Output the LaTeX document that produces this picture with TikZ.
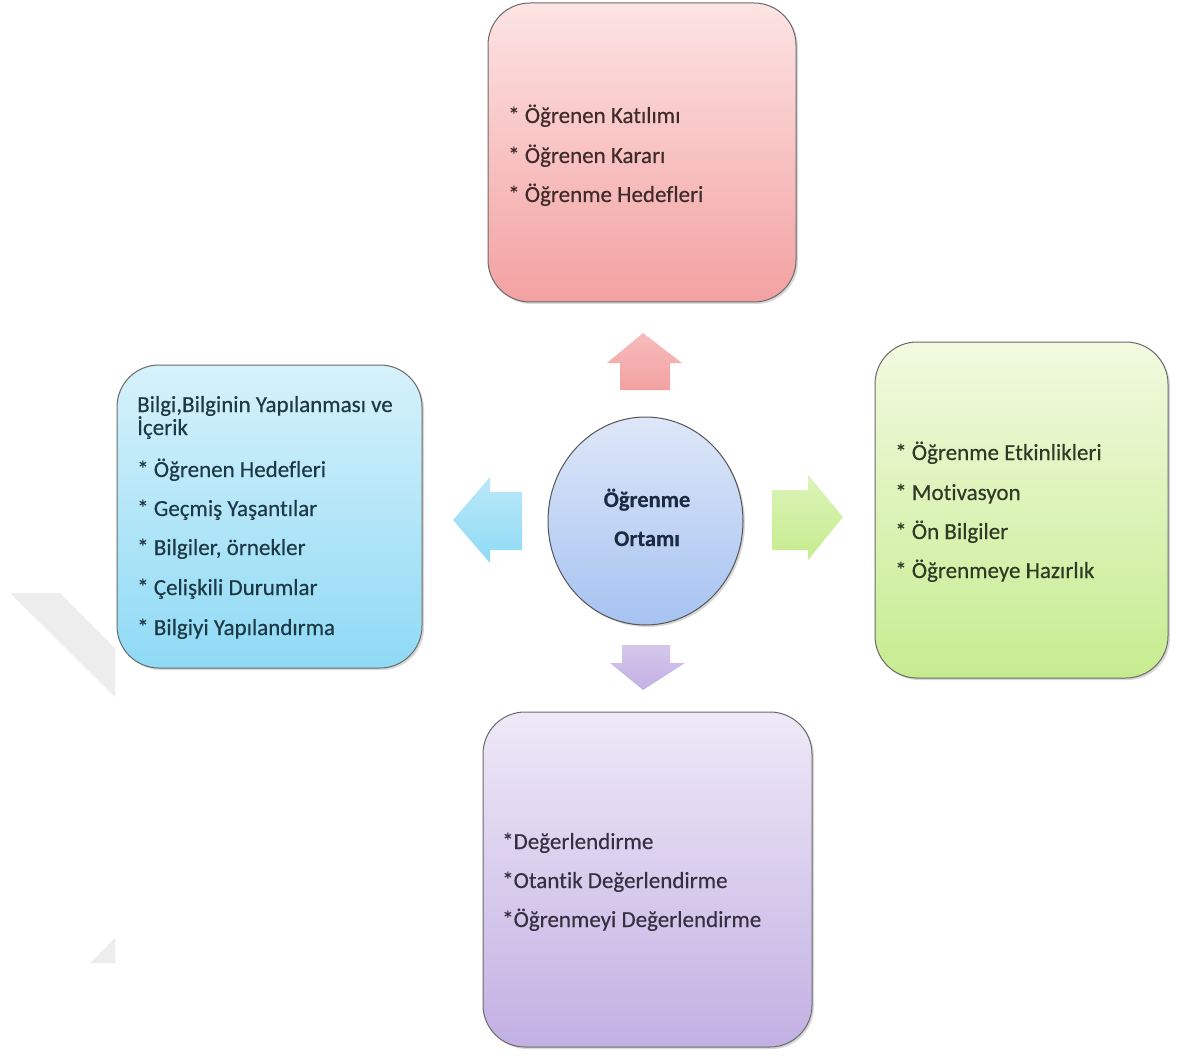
\documentclass[tikz,border=0pt]{standalone}
\usepackage{fontspec}
\setmainfont{Carlito}[Ligatures=NoCommon, FakeBold=0.35]
\newfontfamily\ctrfont{Carlito}[Ligatures=NoCommon, BoldFont={Carlito Bold}, BoldFeatures={FakeBold=0.3}]
\usetikzlibrary{shapes.geometric,shadows}
\definecolor{cardborder}{HTML}{6A6A6A}
\definecolor{redtop}{HTML}{FDE4E4}\definecolor{redbot}{HTML}{F3A1A1}
\definecolor{cyantop}{HTML}{D6F2FB}\definecolor{cyanbot}{HTML}{8FDAF5}
\definecolor{greentop}{HTML}{F2FAE0}\definecolor{greenbot}{HTML}{C6EC8F}
\definecolor{purptop}{HTML}{EEE9F7}\definecolor{purpbot}{HTML}{C3B0E3}
\definecolor{circtop}{HTML}{DEE7F8}\definecolor{circbot}{HTML}{A6C3F1}
\definecolor{redtxt}{HTML}{3F2B2B}
\definecolor{cyantxt}{HTML}{1E3946}
\definecolor{greentxt}{HTML}{2E3A25}
\definecolor{purptxt}{HTML}{353142}
\definecolor{circtxt}{HTML}{1C2A42}
\definecolor{wmark}{HTML}{EDEDED}
\begin{document}
\begin{tikzpicture}[x=1pt,y=-1pt,
  card/.style={draw=cardborder, line width=1pt, rounded corners=42pt, inner sep=0pt,
    drop shadow={opacity=0.3,shadow xshift=2pt,shadow yshift=-2pt}},
  txtline/.style={anchor=base west, inner sep=0pt, font=\fontsize{23}{27}\selectfont},
  ctrline/.style={anchor=base, inner sep=0pt, font=\ctrfont\fontsize{22.5}{27}\selectfont\bfseries, text=circtxt},
]
\useasboundingbox (0,0) rectangle (1177,1056);
\fill[white] (0,0) rectangle (1177,1056);
% watermark
\fill[wmark] (10,593) -- (60,593) -- (115,648) -- (115,697) -- cycle;
\fill[wmark] (90,963) -- (115,938) -- (115,963) -- cycle;

% boxes
\node[card, top color=redtop, bottom color=redbot, minimum width=308pt, minimum height=299pt] (topbox) at (642,152.5) {};
\node[card, top color=cyantop, bottom color=cyanbot, minimum width=305pt, minimum height=303pt] (leftbox) at (269.5,516.5) {};
\node[card, top color=greentop, bottom color=greenbot, minimum width=293pt, minimum height=336pt] (rightbox) at (1021.5,510) {};
\node[card, top color=purptop, bottom color=purpbot, minimum width=329pt, minimum height=335pt] (botbox) at (647.5,879.5) {};

% center
\node[ellipse, draw=cardborder!80!black, line width=1pt, inner sep=0pt, minimum width=195pt, minimum height=208pt,
  top color=circtop, bottom color=circbot,
  drop shadow={opacity=0.3,shadow xshift=2pt,shadow yshift=-2pt}] (center) at (645.5,521) {};
\node[ctrline] (c1) at (647,507) {Öğrenme};
\node[ctrline] (c2) at (647,546) {Ortamı};

% arrows
\path[top color=redtop!40!redbot, bottom color=redbot] (643,333) -- (682,363) -- (670,363) -- (670,390) -- (620,390) -- (620,363) -- (607,363) -- cycle;
\path[top color=cyantop!60!cyanbot, bottom color=cyanbot] (453,520) -- (490,477) -- (490,492) -- (522,492) -- (522,550) -- (490,550) -- (490,563) -- cycle;
\path[top color=greentop!50!greenbot, bottom color=greenbot] (843,517) -- (808,475) -- (808,490) -- (772,490) -- (772,550) -- (808,550) -- (808,560) -- cycle;
\path[top color=purptop!40!purpbot, bottom color=purpbot] (643,690) -- (685,663) -- (670,663) -- (670,645) -- (622,645) -- (622,663) -- (610,663) -- cycle;

% texts
\node[txtline, text=redtxt] (t1) at (508,123) {* Öğrenen Katılımı};
\node[txtline, text=redtxt] (t2) at (508,163) {* Öğrenen Kararı};
\node[txtline, text=redtxt] (t3) at (508,202) {* Öğrenme Hedefleri};

\node[txtline, text=cyantxt] (l0) at (137,412) {Bilgi,Bilginin Yapılanması ve};
\node[txtline, text=cyantxt] (l0b) at (137,435) {İçerik};
\node[txtline, text=cyantxt] (l1) at (137,477) {* Öğrenen Hedefleri};
\node[txtline, text=cyantxt] (l2) at (137,516) {* Geçmiş Yaşantılar};
\node[txtline, text=cyantxt] (l3) at (137,555) {* Bilgiler, örnekler};
\node[txtline, text=cyantxt] (l4) at (137,595) {* Çelişkili Durumlar};
\node[txtline, text=cyantxt] (l5) at (137,635) {* Bilgiyi Yapılandırma};

\node[txtline, text=greentxt] (r1) at (895,460) {* Öğrenme Etkinlikleri};
\node[txtline, text=greentxt] (r2) at (895,500) {* Motivasyon};
\node[txtline, text=greentxt] (r3) at (895,539) {* Ön Bilgiler};
\node[txtline, text=greentxt] (r4) at (895,578) {* Öğrenmeye Hazırlık};

\node[txtline, text=purptxt] (b1) at (502,849) {*Değerlendirme};
\node[txtline, text=purptxt] (b2) at (502,888) {*Otantik Değerlendirme};
\node[txtline, text=purptxt] (b3) at (502,927) {*Öğrenmeyi Değerlendirme};
\end{tikzpicture}
\end{document}
